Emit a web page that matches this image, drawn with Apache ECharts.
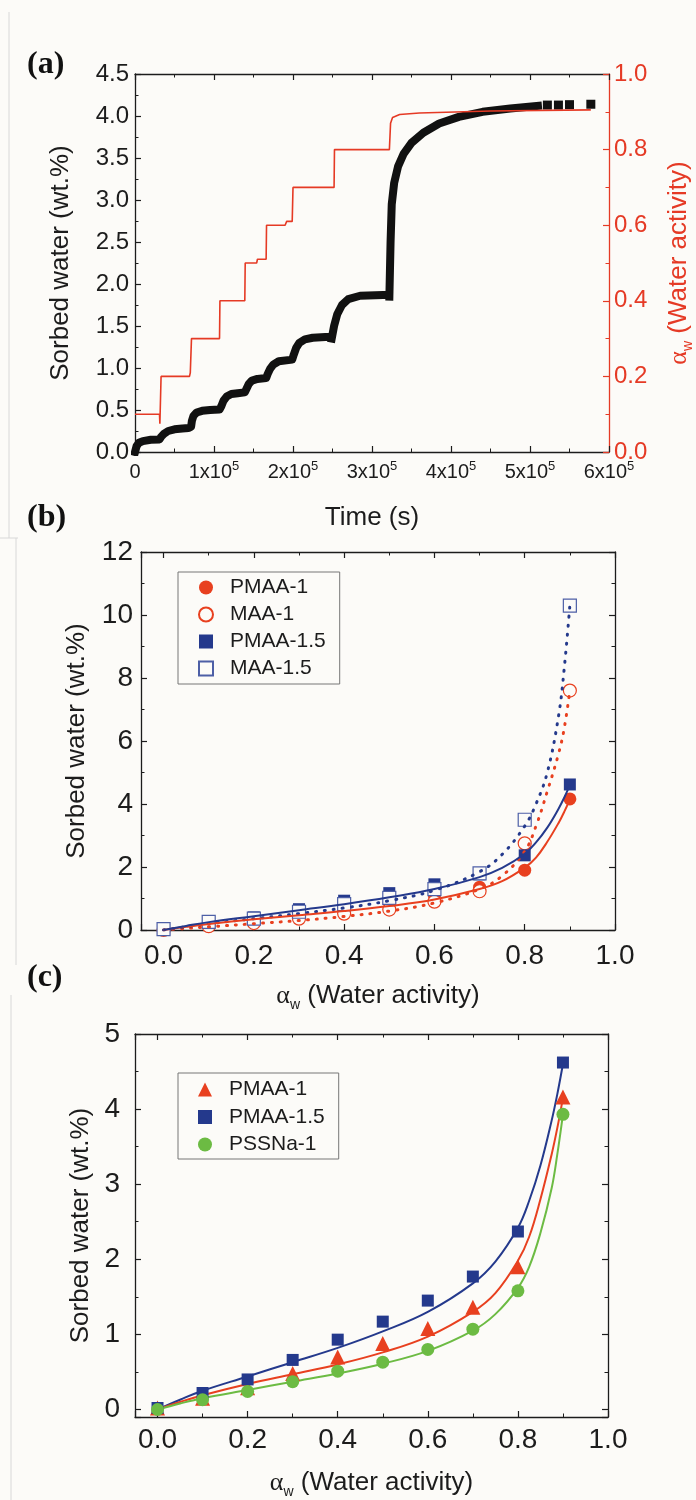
<!DOCTYPE html>
<html>
<head>
<meta charset="utf-8">
<script src="https://cdn.jsdelivr.net/npm/echarts@6/dist/echarts.min.js"></script>
<style>
  html, body { margin: 0; padding: 0; background: #fcfbf8; }
  #chart { width: 696px; height: 1500px; }
</style>
</head>
<body>
<div id="chart"></div>
<script>
// ---- (a) sorption kinetics, time in seconds ----
// '-' marks a gap in the recorded trace
const sorbedTime = [0, 2000, 5000, 10000, 20000, 31000,
  33000, 37000, 42000, 50000, 60000, 68000,
  71000, 72000, 74000, 78000, 85000, 95000, 107000,
  109000, 112000, 116000, 122000, 130000, 139000,
  141000, 144000, 148000, 155000, 166000,
  168000, 171000, 175000, 182000, 199000,
  201000, 204000, 208000, 215000, 225000, 241000,
  245000,
  249000, 252000, 256000, 262000, 270000, 285000, 314000,
  318000,
  322000, 323500, 325000, 328000, 333000, 340000, 350000, 365000, 385000, 410000, 440000, 475000, 510000];
const sorbedWt = [0, 0.07, 0.11, 0.13, 0.145, 0.15,
  0.18, 0.22, 0.25, 0.27, 0.28, 0.285,
  0.30, 0.37, 0.43, 0.47, 0.49, 0.50, 0.505,
  0.54, 0.61, 0.66, 0.69, 0.70, 0.71,
  0.75, 0.81, 0.85, 0.87, 0.88,
  0.93, 0.99, 1.04, 1.08, 1.10,
  1.16, 1.24, 1.30, 1.34, 1.36, 1.37,
  '-',
  1.35, 1.50, 1.64, 1.75, 1.82, 1.86, 1.87,
  '-',
  1.85, 2.50, 2.95, 3.20, 3.40, 3.55, 3.68, 3.80, 3.91, 3.99, 4.05, 4.09, 4.12];
const sorbedTailTime = [522000, 536000, 550000, 577000];
const sorbedTailWt = [4.13, 4.13, 4.135, 4.14];

const awStepTime = [0, 31000, 31500, 32500, 33000, 69000, 70000, 71000, 71500,
  107000, 107500, 139000, 139500, 154000, 155000, 166000, 166500,
  190000, 192000, 199000, 200000, 252000, 252500,
  322000, 323500, 326000, 335000, 360000, 450000, 577000];
const awStepValue = [0.1, 0.1, 0.075, 0.075, 0.2, 0.2, 0.21, 0.21, 0.3,
  0.3, 0.4, 0.4, 0.5, 0.5, 0.51, 0.51, 0.6,
  0.6, 0.61, 0.61, 0.7, 0.7, 0.8,
  0.8, 0.87, 0.885, 0.893, 0.897, 0.902, 0.905];

// ---- (b), (c) sorption isotherms ----
const awLevels = [0, 0.1, 0.2, 0.3, 0.4, 0.5, 0.6, 0.7, 0.8, 0.9];
const pmaa1 = [0.02, 0.15, 0.29, 0.48, 0.70, 0.88, 1.08, 1.36, 1.90, 4.16];
const maa1 = [0.0, 0.12, 0.22, 0.36, 0.52, 0.65, 0.90, 1.23, 2.75, 7.6];
const pmaa15 = [0.02, 0.22, 0.40, 0.66, 0.93, 1.17, 1.45, 1.77, 2.37, 4.62];
const maa15 = [0.03, 0.26, 0.36, 0.58, 0.82, 1.02, 1.30, 1.80, 3.50, 10.3];
const pssna1 = [0.0, 0.13, 0.24, 0.37, 0.51, 0.63, 0.80, 1.07, 1.58, 3.93];

// fitted curves
const fitAw = [0, 0.05, 0.1, 0.2, 0.3, 0.4, 0.5, 0.6, 0.7, 0.75, 0.8, 0.825, 0.85, 0.875, 0.8875, 0.9];
const fitPmaa1 = [0, 0.1, 0.19, 0.34, 0.47, 0.60, 0.76, 0.97, 1.30, 1.55, 1.98, 2.3, 2.8, 3.4, 3.75, 4.15];
const fitPmaa15 = [0, 0.13, 0.25, 0.44, 0.63, 0.82, 1.04, 1.30, 1.68, 1.97, 2.42, 2.78, 3.25, 3.85, 4.2, 4.6];
const fitPssna1 = [0, 0.08, 0.15, 0.26, 0.37, 0.48, 0.61, 0.78, 1.05, 1.27, 1.62, 1.9, 2.35, 2.95, 3.4, 3.93];
const fitMaa1 = [0, 0.05, 0.1, 0.2, 0.3, 0.43, 0.6, 0.86, 1.3, 1.72, 2.5, 3.3, 4.4, 5.6, 6.4, 7.6];
const fitMaa15 = [0, 0.1, 0.2, 0.36, 0.52, 0.70, 0.93, 1.26, 1.85, 2.4, 3.3, 4.0, 5.0, 6.8, 8.3, 10.3];

const BG = '#fcfbf8';
const INK = '#1c1c1c';
const RED = '#e8401f';
const RED_A = '#e53a25';
const NAVY = '#24398c';
const OPEN_BLUE = '#4d5fa6';
const GREEN = '#6cbb43';
const FONT = '"Liberation Sans", Arial, sans-serif';

const pairs = (xs, ys) => xs.map((x, i) => [x, ys[i]]);

function frame(color) {
  return {
    axisLine: { show: true, onZero: false, lineStyle: { color, width: 1.3 } },
    axisTick: { show: true, inside: true, length: 6, lineStyle: { color, width: 1.2 } },
    minorTick: { show: true, splitNumber: 2, length: 3.5, lineStyle: { color, width: 1 } },
    splitLine: { show: false },
    minorSplitLine: { show: false }
  };
}

const awName = '{a|α}{s|w}{b| (Water activity)}';
const awRich = (color) => ({
  a: { fontSize: 26, lineHeight: 32, fontFamily: '"Liberation Serif", serif', color },
  s: { fontSize: 14, lineHeight: 14, verticalAlign: 'bottom', color },
  b: { fontSize: 26, lineHeight: 32, fontFamily: FONT, color }
});

const legendBase = {
  orient: 'vertical', left: 178,
  itemWidth: 14, itemHeight: 14,
  borderColor: '#777', borderWidth: 1, backgroundColor: BG,
  selectedMode: false,
  formatter: n => n.split('|')[1],
  textStyle: { fontSize: 21, lineHeight: 21, color: INK, padding: [0, 0, 0, 12] }
};

const chart = echarts.init(document.getElementById('chart'), null, { renderer: 'canvas' });

const option = {
  backgroundColor: BG,
  animation: false,
  textStyle: { fontFamily: FONT, color: INK },
  grid: [
    { left: 135, top: 74, width: 474, height: 378, outerBoundsMode: 'none' },
    { left: 141, top: 552, width: 474, height: 378, outerBoundsMode: 'none' },
    { left: 135, top: 1034, width: 473, height: 383, outerBoundsMode: 'none' }
  ],
  xAxis: [
    Object.assign(frame(INK), {
      gridIndex: 0, type: 'value', position: 'bottom', min: 0, max: 600000, interval: 100000,
      axisLabel: {
        margin: 8, color: INK,
        formatter: v => v === 0 ? '{m|0}' : '{m|' + (v / 100000) + 'x10}{s|5}',
        rich: {
          m: { fontSize: 20, lineHeight: 24, color: INK },
          s: { fontSize: 13, lineHeight: 13, verticalAlign: 'top', color: INK }
        }
      },
      name: 'Time (s)', nameLocation: 'middle', nameGap: 53,
      nameTextStyle: { fontSize: 26, color: INK }
    }),
    Object.assign(frame(INK), {
      gridIndex: 0, type: 'value', position: 'top', min: 0, max: 600000, interval: 100000,
      axisLabel: { show: false }
    }),
    Object.assign(frame(INK), {
      gridIndex: 1, type: 'value', position: 'bottom', min: -0.05, max: 1.0, splitNumber: 5,
      axisLabel: { margin: 12, fontSize: 28, color: INK, showMinLabel: false, formatter: v => v.toFixed(1) },
      name: awName, nameLocation: 'middle', nameGap: 50,
      nameTextStyle: { rich: awRich(INK) }
    }),
    Object.assign(frame(INK), {
      gridIndex: 1, type: 'value', position: 'top', min: -0.05, max: 1.0, splitNumber: 5,
      axisLabel: { show: false }
    }),
    Object.assign(frame(INK), {
      gridIndex: 2, type: 'value', position: 'bottom', min: -0.05, max: 1.0, splitNumber: 5,
      axisLabel: { margin: 9, fontSize: 28, color: INK, showMinLabel: false, formatter: v => v.toFixed(1) },
      name: awName, nameLocation: 'middle', nameGap: 50,
      nameTextStyle: { rich: awRich(INK) }
    }),
    Object.assign(frame(INK), {
      gridIndex: 2, type: 'value', position: 'top', min: -0.05, max: 1.0, splitNumber: 5,
      axisLabel: { show: false }
    })
  ],
  yAxis: [
    Object.assign(frame(INK), {
      gridIndex: 0, type: 'value', position: 'left', min: 0, max: 4.5, interval: 0.5,
      axisLabel: { margin: 6, fontSize: 24, color: INK, formatter: v => v.toFixed(1) },
      name: 'Sorbed water (wt.%)', nameLocation: 'middle', nameRotate: 90, nameGap: 61,
      nameTextStyle: { fontSize: 26, color: INK }
    }),
    Object.assign(frame(RED_A), {
      gridIndex: 0, type: 'value', position: 'right', min: 0, max: 1.0, interval: 0.2,
      axisLabel: { margin: 5, fontSize: 24, color: RED_A, formatter: v => v.toFixed(1) },
      name: awName, nameLocation: 'middle', nameRotate: 90, nameGap: 54,
      nameTextStyle: { rich: awRich(RED_A) }
    }),
    Object.assign(frame(INK), {
      gridIndex: 1, type: 'value', position: 'left', min: 0, max: 12, interval: 2,
      axisLabel: { margin: 8, fontSize: 28, color: INK },
      name: 'Sorbed water (wt.%)', nameLocation: 'middle', nameRotate: 90, nameGap: 51,
      nameTextStyle: { fontSize: 26, color: INK }
    }),
    Object.assign(frame(INK), {
      gridIndex: 1, type: 'value', position: 'right', min: 0, max: 12, interval: 2,
      axisLabel: { show: false }
    }),
    Object.assign(frame(INK), {
      gridIndex: 2, type: 'value', position: 'left', min: -0.1, max: 5, splitNumber: 5,
      axisLabel: { margin: 15, fontSize: 28, color: INK, showMinLabel: false },
      name: 'Sorbed water (wt.%)', nameLocation: 'middle', nameRotate: 90, nameGap: 38,
      nameTextStyle: { fontSize: 26, color: INK }
    }),
    Object.assign(frame(INK), {
      gridIndex: 2, type: 'value', position: 'right', min: -0.1, max: 5, splitNumber: 5,
      axisLabel: { show: false }
    })
  ],
  legend: [
    Object.assign({}, legendBase, {
      data: ['b|PMAA-1', 'b|MAA-1', 'b|PMAA-1.5', 'b|MAA-1.5'],
      top: 572, itemGap: 6, padding: [5, 14, 5, 20]
    }),
    Object.assign({}, legendBase, {
      data: ['c|PMAA-1', 'c|PMAA-1.5', 'c|PSSNa-1'],
      top: 1073, itemGap: 6.5, padding: [6, 14, 4, 20]
    })
  ],
  graphic: [
    { type: 'text', left: 27, top: 49, style: { text: '(a)', font: 'bold 32px "Liberation Serif", serif', fill: '#111' } },
    { type: 'text', left: 27, top: 502, style: { text: '(b)', font: 'bold 32px "Liberation Serif", serif', fill: '#111' } },
    { type: 'text', left: 27, top: 962, style: { text: '(c)', font: 'bold 32px "Liberation Serif", serif', fill: '#111' } },
    { type: 'line', shape: { x1: 9, y1: 12, x2: 9, y2: 538 }, style: { stroke: '#d8d8d8', lineWidth: 1 } },
    { type: 'line', shape: { x1: 0, y1: 538, x2: 18, y2: 538 }, style: { stroke: '#d8d8d8', lineWidth: 1 } },
    { type: 'line', shape: { x1: 16, y1: 538, x2: 16, y2: 965 }, style: { stroke: '#d8d8d8', lineWidth: 1 } },
    { type: 'line', shape: { x1: 11, y1: 995, x2: 11, y2: 1500 }, style: { stroke: '#d8d8d8', lineWidth: 1 } }
  ],
  series: [
    // (a)
    {
      name: 'sorbed', type: 'line', xAxisIndex: 0, yAxisIndex: 0,
      data: pairs(sorbedTime, sorbedWt), symbol: 'none', connectNulls: false,
      lineStyle: { color: '#111', width: 8, cap: 'square', join: 'round' }, silent: true, z: 2
    },
    {
      name: 'sorbedTail', type: 'scatter', xAxisIndex: 0, yAxisIndex: 0,
      data: pairs(sorbedTailTime, sorbedTailWt), symbol: 'rect', symbolSize: 9,
      itemStyle: { color: '#111', opacity: 1 }, silent: true, z: 2
    },
    {
      name: 'aw', type: 'line', xAxisIndex: 0, yAxisIndex: 1,
      data: pairs(awStepTime, awStepValue), symbol: 'none',
      lineStyle: { color: RED_A, width: 1.6 }, silent: true, z: 3
    },
    // (b) markers
    {
      name: 'b|PMAA-1', type: 'scatter', xAxisIndex: 2, yAxisIndex: 2,
      data: pairs(awLevels, pmaa1), symbol: 'circle', symbolSize: 13,
      itemStyle: { color: RED, opacity: 1 }, z: 3
    },
    {
      name: 'b|MAA-1', type: 'scatter', xAxisIndex: 2, yAxisIndex: 2,
      data: pairs(awLevels, maa1), symbol: 'circle', symbolSize: 13,
      itemStyle: { color: BG, borderColor: RED, borderWidth: 1.2, opacity: 1 }, z: 3
    },
    {
      name: 'b|PMAA-1.5', type: 'scatter', xAxisIndex: 2, yAxisIndex: 2,
      data: pairs(awLevels, pmaa15), symbol: 'rect', symbolSize: 12,
      itemStyle: { color: NAVY, opacity: 1 }, z: 3
    },
    {
      name: 'b|MAA-1.5', type: 'scatter', xAxisIndex: 2, yAxisIndex: 2,
      data: pairs(awLevels, maa15), symbol: 'rect', symbolSize: 13,
      itemStyle: { color: BG, borderColor: OPEN_BLUE, borderWidth: 1.2, opacity: 1 }, z: 3
    },
    // (b) fits
    {
      name: 'fitMaa1', type: 'line', xAxisIndex: 2, yAxisIndex: 2, data: pairs(fitAw, fitMaa1),
      symbol: 'none', smooth: 0.4, silent: true, z: 4,
      lineStyle: { color: RED, width: 3, type: [1, 8], cap: 'round' }
    },
    {
      name: 'fitMaa15', type: 'line', xAxisIndex: 2, yAxisIndex: 2, data: pairs(fitAw, fitMaa15),
      symbol: 'none', smooth: 0.4, silent: true, z: 4,
      lineStyle: { color: NAVY, width: 3, type: [1, 8], cap: 'round' }
    },
    {
      name: 'fitPmaa1b', type: 'line', xAxisIndex: 2, yAxisIndex: 2, data: pairs(fitAw, fitPmaa1),
      symbol: 'none', smooth: 0.4, silent: true, z: 4,
      lineStyle: { color: RED, width: 2 }
    },
    {
      name: 'fitPmaa15b', type: 'line', xAxisIndex: 2, yAxisIndex: 2, data: pairs(fitAw, fitPmaa15),
      symbol: 'none', smooth: 0.4, silent: true, z: 4,
      lineStyle: { color: NAVY, width: 2 }
    },
    // (c) fits
    {
      name: 'fitPmaa15c', type: 'line', xAxisIndex: 4, yAxisIndex: 4, data: pairs(fitAw, fitPmaa15),
      symbol: 'none', smooth: 0.4, silent: true, z: 2,
      lineStyle: { color: NAVY, width: 2 }
    },
    {
      name: 'fitPmaa1c', type: 'line', xAxisIndex: 4, yAxisIndex: 4, data: pairs(fitAw, fitPmaa1),
      symbol: 'none', smooth: 0.4, silent: true, z: 2,
      lineStyle: { color: RED, width: 2 }
    },
    {
      name: 'fitPssna1c', type: 'line', xAxisIndex: 4, yAxisIndex: 4, data: pairs(fitAw, fitPssna1),
      symbol: 'none', smooth: 0.4, silent: true, z: 2,
      lineStyle: { color: GREEN, width: 2 }
    },
    // (c) markers
    {
      name: 'c|PMAA-1', type: 'scatter', xAxisIndex: 4, yAxisIndex: 4,
      data: pairs(awLevels, pmaa1), symbol: 'triangle', symbolSize: 15,
      itemStyle: { color: RED, opacity: 1 }, z: 3
    },
    {
      name: 'c|PMAA-1.5', type: 'scatter', xAxisIndex: 4, yAxisIndex: 4,
      data: pairs(awLevels, pmaa15), symbol: 'rect', symbolSize: 12,
      itemStyle: { color: NAVY, opacity: 1 }, z: 3
    },
    {
      name: 'c|PSSNa-1', type: 'scatter', xAxisIndex: 4, yAxisIndex: 4,
      data: pairs(awLevels, pssna1), symbol: 'circle', symbolSize: 13,
      itemStyle: { color: GREEN, opacity: 1 }, z: 3
    }
  ]
};

chart.setOption(option);
</script>
</body>
</html>
